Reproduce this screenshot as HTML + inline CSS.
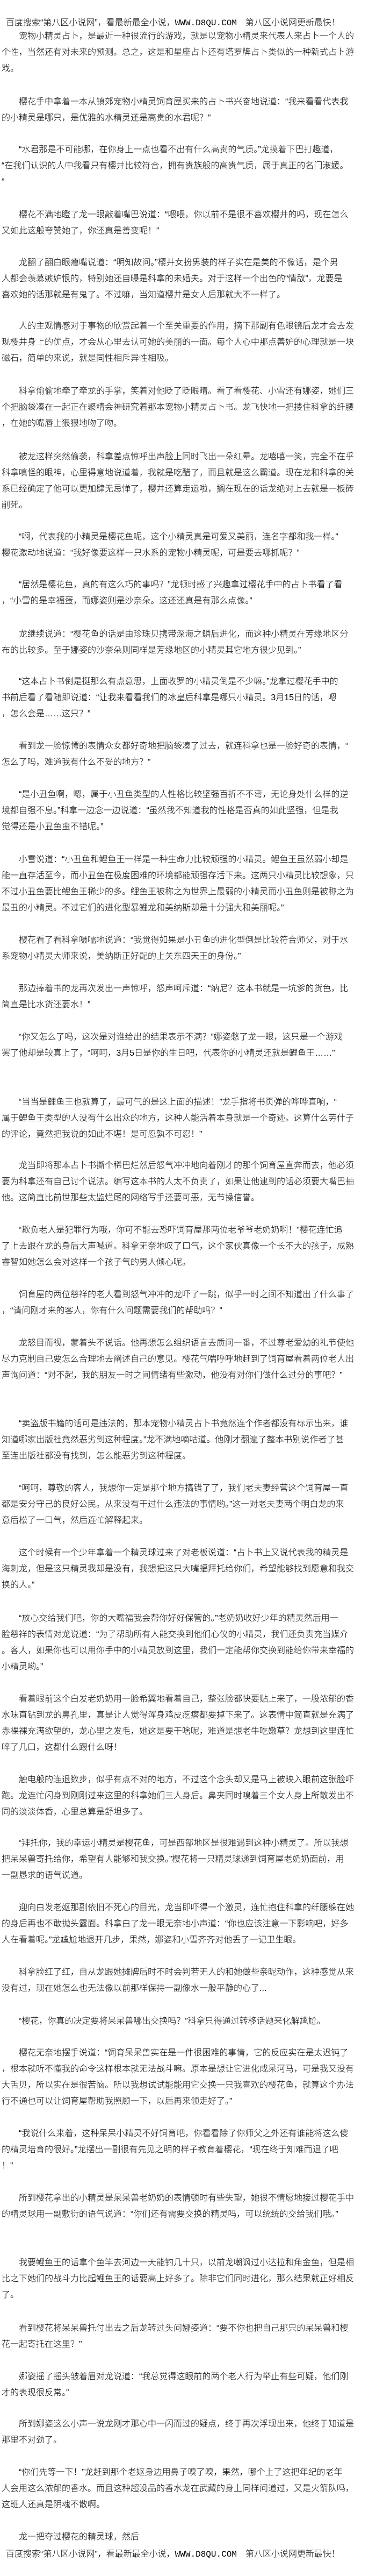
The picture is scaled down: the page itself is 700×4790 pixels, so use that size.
<!DOCTYPE html>
<html><head><meta charset="utf-8">
<style>
html,body{margin:0;padding:0;background:#fff;}
body{width:700px;height:4790px;position:relative;overflow:hidden;color:#000;
font-family:"Liberation Sans","Noto Sans CJK SC",sans-serif;font-size:16px;font-weight:300;}
.p{position:absolute;left:3px;line-height:30px;white-space:nowrap;}
.m{font-family:"Liberation Mono",monospace;font-weight:400;}
</style></head><body>
<div class="p" style="top:28px;left:11px">百度搜索“第八区小说网”，看最新最全小说，<span class="m">WWW.D8QU.COM</span>　第八区小说网更新最快！</div>
<div class="p" style="top:53px">　　宠物小精灵占卜，是最近一种很流行的游戏，就是以宠物小精灵来代表人来占卜一个人的<br>个性，当然还有对未来的预测。总之，这是和星座占卜还有塔罗牌占卜类似的一种新式占卜游<br>戏。</div>
<div class="p" style="top:175px">　　樱花手中拿着一本从镇郊宠物小精灵饲育屋买来的占卜书兴奋地说道：“我来看看代表我<br>的小精灵是哪只，是优雅的水精灵还是高贵的水君呢？”</div>
<div class="p" style="top:264px">　　“水君那是不可能哪，在你身上一点也看不出有什么高贵的气质。”龙摸着下巴打趣道，<br>“在我们认识的人中我看只有樱井比较符合，拥有贵族般的高贵气质，属于真正的名门淑媛。<br>”</div>
<div class="p" style="top:385px">　　樱花不满地瞪了龙一眼敲着嘴巴说道：“喂喂，你以前不是很不喜欢樱井的吗，现在怎么<br>又如此这般夸赞她了，你还真是善变呢！”</div>
<div class="p" style="top:474px">　　龙翻了翻白眼瘪嘴说道：“明知故问。”樱井女扮男装的样子实在是美的不像话，是个男<br>人都会羡慕嫉妒恨的，特别她还自曝是科拿的未婚夫。对于这样一个出色的“情敌”，龙要是<br>喜欢她的话那就是有鬼了。不过嘛，当知道樱井是女人后那就大不一样了。</div>
<div class="p" style="top:592px">　　人的主观情感对于事物的欣赏起着一个至关重要的作用，摘下那副有色眼镜后龙才会去发<br>现樱井身上的优点，才会从心里去认可她的美丽的一面。每个人心中那点善妒的心理就是一块<br>磁石，简单的来说，就是同性相斥异性相吸。</div>
<div class="p" style="top:713px">　　科拿偷偷地牵了牵龙的手掌，笑着对他眨了眨眼睛。看了看樱花、小雪还有娜姿，她们三<br>个把脑袋凑在一起正在聚精会神研究着那本宠物小精灵占卜书。龙飞快地一把搂住科拿的纤腰<br>，在她的嘴唇上狠狠地吻了吻。</div>
<div class="p" style="top:835px">　　被龙这样突然偷袭，科拿差点惊呼出声脸上同时飞出一朵红晕。龙嘻嘻一笑，完全不在乎<br>科拿嗔怪的眼神，心里得意地说道着，我就是吃醋了，而且就是这么霸道。现在龙和科拿的关<br>系已经确定了他可以更加肆无忌惮了，樱井还算走运啦，搁在现在的话龙绝对上去就是一板砖<br>削死。</div>
<div class="p" style="top:984px">　　“啊，代表我的小精灵是樱花鱼呢，这个小精灵真是可爱又美丽，连名字都和我一样。”<br>樱花激动地说道：“我好像要这样一只水系的宠物小精灵呢，可是要去哪抓呢？”</div>
<div class="p" style="top:1073px">　　“居然是樱花鱼，真的有这么巧的事吗？”龙顿时感了兴趣拿过樱花手中的占卜书看了看<br>，“小雪的是幸福蛋，而娜姿则是沙奈朵。这还还真是有那么点像。”</div>
<div class="p" style="top:1165px">　　龙继续说道：“樱花鱼的话是由珍珠贝携带深海之鳞后进化，而这种小精灵在芳缘地区分<br>布的比较多。至于娜姿的沙奈朵则同样是芳缘地区的小精灵其它地方很少见到。”</div>
<div class="p" style="top:1253px">　　“这本占卜书倒是挺那么有点意思，上面收罗的小精灵倒是不少嘛。”龙拿过樱花手中的<br>书前后看了看随即说道：“让我来看看我们的冰皇后科拿是哪只小精灵。3月15日的话，嗯<br>，怎么会是……这只？”</div>
<div class="p" style="top:1373px">　　看到龙一脸惊愕的表情众女都好奇地把脑袋凑了过去，就连科拿也是一脸好奇的表情，“<br>怎么了吗，难道我有什么不妥的地方？”</div>
<div class="p" style="top:1463px">　　“是小丑鱼啊，嗯，属于小丑鱼类型的人性格比较坚强百折不不弯，无论身处什么样的逆<br>境都自强不息。”科拿一边念一边说道：“虽然我不知道我的性格是否真的如此坚强，但是我<br>觉得还是小丑鱼蛮不错呢。”</div>
<div class="p" style="top:1584px">　　小雪说道：“小丑鱼和鲤鱼王一样是一种生命力比较顽强的小精灵。鲤鱼王虽然弱小却是<br>能一直存活至今，而小丑鱼在极度困难的环境都能顽强存活下来。这两只小精灵比较想象，只<br>不过小丑鱼要比鲤鱼王稀少的多。鲤鱼王被称之为世界上最弱的小精灵而小丑鱼则是被称之为<br>最丑的小精灵。不过它们的进化型暴鲤龙和美纳斯却是十分强大和美丽呢。”</div>
<div class="p" style="top:1734px">　　樱花看了看科拿嗫嚅地说道：“我觉得如果是小丑鱼的进化型倒是比较符合师父，对于水<br>系宠物小精灵大师来说，美纳斯正好配的上关东四天王的身份。”</div>
<div class="p" style="top:1824px">　　那边捧着书的龙再次发出一声惊呼，怒声呵斥道：“纳尼？这本书就是一坑爹的货色，比<br>简直是比水货还要水！”</div>
<div class="p" style="top:1914px">　　“你又怎么了吗，这次是对谁给出的结果表示不满？”娜姿憋了龙一眼，这只是一个游戏<br>罢了他却是较真上了，“呵呵，3月5日是你的生日吧，代表你的小精灵还就是鲤鱼王……”</div>
<div class="p" style="top:2035px">　　“当当是鲤鱼王也就算了，最可气的是这上面的描述！”龙手指将书页弹的哗哗直响，“<br>属于鲤鱼王类型的人没有什么出众的地方，这种人能活着本身就是一个奇迹。这算什么劳什子<br>的评论，竟然把我说的如此不堪！是可忍孰不可忍！”</div>
<div class="p" style="top:2153px">　　龙当即将那本占卜书撕个稀巴烂然后怒气冲冲地向着刚才的那个饲育屋直奔而去，他必须<br>要为科拿还有自己讨个说法。编写这本书的人太不负责了，如果让他逮到的话必须要大嘴巴抽<br>他。这简直比前世那些太监烂尾的网络写手还要可恶，无节操信誉。</div>
<div class="p" style="top:2273px">　　“欺负老人是犯罪行为哦，你可不能去恐吓饲育屋那两位老爷爷老奶奶啊！”樱花连忙追<br>了上去跟在龙的身后大声喊道。科拿无奈地叹了口气，这个家伙真像一个长不大的孩子，成熟<br>睿智如她怎么会对这样一个孩子气的男人倾心呢。</div>
<div class="p" style="top:2393px">　　饲育屋的两位慈祥的老人看到怒气冲冲的龙吓了一跳，似乎一时之间不知道出了什么事了<br>，“请问刚才来的客人，你有什么问题需要我们的帮助吗？”</div>
<div class="p" style="top:2483px">　　龙怒目而视，蒙着头不说话。他再想怎么组织语言去质问一番，不过尊老爱幼的礼节使他<br>尽力克制自己要怎么合理地去阐述自己的意见。樱花气喘呼呼地赶到了饲育屋看着两位老人出<br>声询问道：“对不起，我的朋友一时之间情绪有些激动，他没有对你们做什么过分的事吧？”</div>
<div class="p" style="top:2633px">　　“卖盗版书籍的话可是违法的，那本宠物小精灵占卜书竟然连个作者都没有标示出来，谁<br>知道哪家出版社竟然恶劣到这种程度。”龙不满地嘀咕道。他刚才翻遍了整本书别说作者了甚<br>至连出版社都没有找到，怎么能恶劣到这种程度。</div>
<div class="p" style="top:2753px">　　“呵呵，尊敬的客人，我想你一定是那个地方搞错了了，我们老夫妻经营这个饲育屋一直<br>都是安分守己的良好公民。从来没有干过什么违法的事情哟。”这一对老夫妻两个明白龙的来<br>意后松了一口气，然后连忙解释起来。</div>
<div class="p" style="top:2873px">　　这个时候有一个少年拿着一个精灵球过来了对老板说道：“占卜书上又说代表我的精灵是<br>海刺龙，但是这只精灵我却是没有，我想把这只大嘴蝠拜托给你们，希望能够找到愿意和我交<br>换的人。”</div>
<div class="p" style="top:2995px">　　“放心交给我们吧，你的大嘴福我会帮你好好保管的。”老奶奶收好少年的精灵然后用一<br>脸慈祥的表情对龙说道：“为了帮助所有人能交换到他们心仪的小精灵，我们还负责充当媒介<br>。客人，如果你也可以用你手中的小精灵放到这里，我们一定能帮你交换到能给你带来幸福的<br>小精灵哟。”</div>
<div class="p" style="top:3145px">　　看着眼前这个白发老奶奶用一脸希翼地看着自己，整张脸都快要贴上来了，一股浓郁的香<br>水味直钻到龙的鼻孔里，真是让人觉得浑身鸡皮疙瘩都要掉下来了。这表情中简直就是充满了<br>赤裸裸充满欲望的，龙心里之发毛，她这是要干啥呢，难道是想老牛吃嫩草？龙想到这里连忙<br>啐了几口，这都什么跟什么呀！</div>
<div class="p" style="top:3295px">　　触电般的连退数步，似乎有点不对的地方，不过这个念头却又是马上被映入眼前这张脸吓<br>跑。龙连忙闪身到刚刚过来这里的科拿她们三人身后。鼻夹同时嗅着三个女人身上所散发出不<br>同的淡淡体香，心里总算是舒坦多了。</div>
<div class="p" style="top:3413px">　　“拜托你，我的幸运小精灵是樱花鱼，可是西部地区是很难遇到这种小精灵了。所以我想<br>把呆呆兽寄托给你，希望有人能够和我交换。”樱花将一只精灵球递到饲育屋老奶奶面前，用<br>一副恳求的语气说道。</div>
<div class="p" style="top:3533px">　　迎向白发老妪那副依旧不死心的目光，龙当即吓得一个激灵，连忙抱住科拿的纤腰躲在她<br>的身后再也不敢抛头露面。科拿白了龙一眼无奈地小声道：“你也应该注意一下影响吧，好多<br>人在看着呢。”龙尴尬地退开几步，果然，娜姿和小雪齐齐对他丢了一记卫生眼。</div>
<div class="p" style="top:3653px">　　科拿脸红了红，自从龙跟她摊牌后时不时会判若无人的和她做些亲昵动作，这种感觉从来<br>没有过，现在她怎么也无法像以前那样保持一副像水一般平静的心了...</div>
<div class="p" style="top:3744px">　　“樱花，你真的决定要将呆呆兽哪出交换吗？”科拿只得通过转移话题来化解尴尬。</div>
<div class="p" style="top:3803px">　　樱花无奈地摆手说道：“饲育呆呆兽实在是一件很困难的事情，它的反应实在是太迟钝了<br>，根本就听不懂我的命令这样根本就无法战斗嘛。原本是想让它进化成呆河马，可是我又没有<br>大舌贝，所以实在是很苦恼。所以我想试试能能用它交换一只我喜欢的樱花鱼，就算这个办法<br>行不通也可以让饲育屋帮助我照顾一下，以后再来领走好了。”</div>
<div class="p" style="top:3953px">　　“我说什么来着，这种呆呆小精灵不好饲育吧，你看看除了你师父之外还有谁能将这么傻<br>的精灵培育的很好。”龙摆出一副很有先见之明的样子教育着樱花，“现在终于知难而退了吧<br>！”</div>
<div class="p" style="top:4073px">　　所到樱花拿出的小精灵是呆呆兽老奶奶的表情顿时有些失望，她很不情愿地接过樱花手中<br>的精灵球用一副敷衍的语气说道：“你们还有需要交换的精灵吗，可以统统的交给我们哦。”</div>
<div class="p" style="top:4193px">　　我要鲤鱼王的话拿个鱼竿去河边一天能钓几十只，以前龙嘲讽过小达拉和角金鱼，但是相<br>比之下她们的战斗力比起鲤鱼王的话要高上好多了。除非它们同时进化，那么结果就正好相反<br>了。</div>
<div class="p" style="top:4315px">　　看到樱花将呆呆兽托付出去之后龙转过头问娜姿道：“要不你也把自己那只的呆呆兽和樱<br>花一起寄托在这里？”</div>
<div class="p" style="top:4405px">　　娜姿摇了摇头皱着眉对龙说道：“我总觉得这眼前的两个老人行为举止有些可疑，他们刚<br>才的表现很反常。”</div>
<div class="p" style="top:4493px">　　所到娜姿这么小声一说龙刚才那心中一闪而过的疑点，终于再次浮现出来，他终于知道是<br>那里不对劲了。</div>
<div class="p" style="top:4583px">　　“你们先等一下！”龙赶到那个老妪身边用鼻子嗅了嗅，果然，哪个上了这把年纪的老年<br>人会用这么浓郁的香水。而且这种超没品的香水龙在武藏的身上同样问道过，又是火箭队吗，<br>这班人还真是阴魂不散啊。</div>
<div class="p" style="top:4703px">　　龙一把夺过樱花的精灵球，然后</div>
<div class="p" style="top:4735px;left:11px">百度搜索“第八区小说网”，看最新最全小说，<span class="m">WWW.D8QU.COM</span>　第八区小说网更新最快！</div>
</body></html>
